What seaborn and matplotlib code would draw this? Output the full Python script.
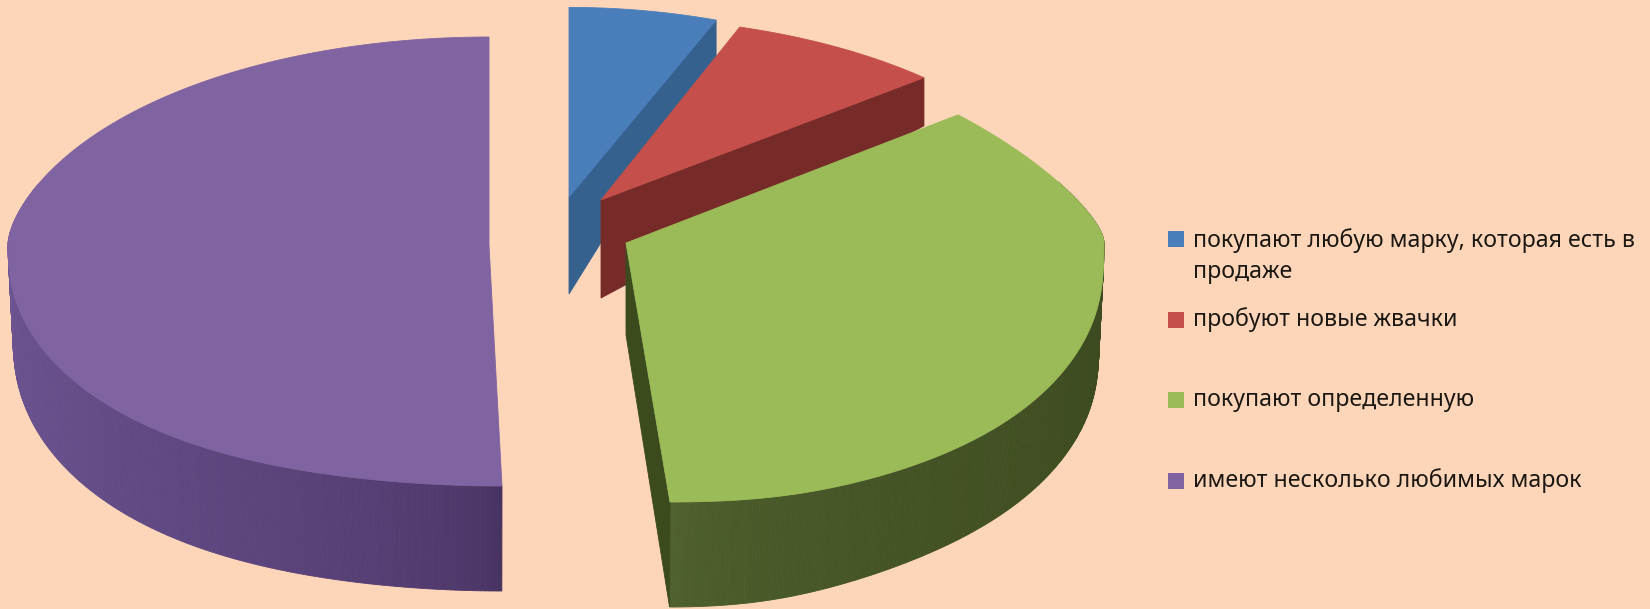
import numpy as np
import pandas as pd
import matplotlib
matplotlib.use("Agg")
import matplotlib.pyplot as plt
from matplotlib.colors import to_rgb
from matplotlib.patches import Polygon
import seaborn as sns

# Survey shares, percent
categories = [
    "покупают любую марку, которая есть в\nпродаже",
    "пробуют новые жвачки",
    "покупают определенную",
    "имеют несколько любимых марок",
]
shares = [6.5, 9.0, 34.5, 50.0]

# Styling of each slice
top_colors = ["#4A7EBB", "#C44F4B", "#9BBB59", "#8064A2"]
cut_colors = ["#35618F", "#772B29", "#3B4B1E", "#46305F"]
wall_far_colors = ["#35618F", "#772B29", "#3D4A20", "#6C5492"]
wall_near_colors = ["#35618F", "#772B29", "#50632F", "#46305F"]

# Exploded pie layout, in pixels
apex_x = [569, 601, 626, 489]
apex_y = [197, 200, 243, 245]
far_reach = [237, 288, 260, 260]
far_taper = [0.25, 0.576, 0.25, 0.25]
near_reach = [241, 241, 259, 241]
front_shift = [0, 0, 44, 13]
radius = [493, 465, 478, 481]
x_taper = [0.4, 0.4, 0.4, 0.19]
side_sag = [0, 0, 24, 10]
wall_base = [95, 95, 92, 85]
wall_rise = [0, 0, 13, 20]
wall_power = [1, 1, 6, 0.5]
apex_drop = [97, 98, 92, 95]
draw_order = [3, 0, 1, 2]

BACKGROUND = "#FDD6B9"

sns.set_theme(style="white")
plt.rcParams["font.family"] = ["Noto Sans", "DejaVu Sans"]


def project(theta, i):
    """Perspective projection of rim points; theta runs clockwise from the back."""
    u, v = np.sin(theta), np.cos(theta)
    far = v >= 0
    abs_v = np.abs(v)
    near_k = far_reach[i] / near_reach[i] - 1
    sag = side_sag[i] * (1 - abs_v ** 4) * (1 - np.exp(-abs_v / 0.07))
    dy = np.where(far,
                  far_reach[i] * v / (1 + far_taper[i] * v),
                  far_reach[i] * v / (1 + near_k * abs_v) - sag)
    scale = np.where(far, 1 + x_taper[i] * v ** 2 / (abs_v + 0.1), 1.0)
    dx = radius[i] * u / scale + front_shift[i] * np.where(far, 0, abs_v ** 12)
    return dx, dy, v


def wall_drop(v, i):
    """Apparent height of the pie's side at a given depth position."""
    base = wall_base[i]
    return np.where(v >= 0,
                    37 + (base - 37) * (1 - v) ** 2,
                    base + wall_rise[i] * np.abs(v) ** wall_power[i])


def rim(theta, i):
    dx, dy, v = project(theta, i)
    shrink = np.where(v < 0.3, 0.99, 1.0)
    top = np.column_stack([apex_x[i] + dx, apex_y[i] - dy])
    bottom = np.column_stack([apex_x[i] + dx * shrink, apex_y[i] - dy + wall_drop(v, i)])
    return top, bottom


def blend(a, b, t):
    a, b = np.array(to_rgb(a)), np.array(to_rgb(b))
    return tuple(a + (b - a) * t)


table = pd.DataFrame({"label": categories, "share": shares})
table["sweep"] = table["share"] / table["share"].sum() * 2 * np.pi
table["end"] = table["sweep"].cumsum()
table["start"] = table["end"] - table["sweep"]

fig = plt.figure(figsize=(16.5, 6.09), dpi=100, facecolor=BACKGROUND)
ax = fig.add_axes([0, 0, 1, 1], facecolor=BACKGROUND)

for i in draw_order:
    start, end = table.loc[i, "start"], table.loc[i, "end"]
    theta = np.linspace(start, end, 360)
    top, bottom = rim(theta, i)
    cx, cy = apex_x[i], apex_y[i]
    apex_low = (cx, cy + apex_drop[i])

    # Outer side of the slice, shaded around the rim
    for k in range(len(theta) - 1):
        mid = 0.5 * (theta[k] + theta[k + 1])
        if np.cos(mid) > 0.25:
            continue
        t = np.clip(abs(mid - np.pi) / (np.pi / 2), 0, 1) ** 0.5
        shade = blend(wall_near_colors[i], wall_far_colors[i], t)
        ax.add_patch(Polygon([top[k], top[k + 1], bottom[k + 1], bottom[k]],
                             closed=True, fc=shade, ec=shade, lw=0.6, zorder=2 + i))

    # Visible radial cut of the slice
    if i in (0, 1, 2):
        ax.add_patch(Polygon([(cx, cy), top[-1], bottom[-1], apex_low],
                             closed=True, fc=cut_colors[i], ec=cut_colors[i],
                             lw=0.6, zorder=2 + i))

    # Top face
    ax.add_patch(Polygon(np.vstack([[(cx, cy)], top]), closed=True,
                         fc=top_colors[i], ec=top_colors[i], lw=0.6, zorder=2 + i))

# Legend
swatch_x = 1176
text_x = 1193
swatch_y = [239, 320, 400, 481]
text_y = [256, 320, 400, 481]
legend = pd.DataFrame({"x": [swatch_x] * 4, "y": swatch_y, "label": categories})
sns.scatterplot(data=legend, x="x", y="y", hue="label",
                palette=sns.color_palette(top_colors), marker="s", s=135,
                linewidth=0, legend=False, ax=ax, zorder=10)
for label, y in zip(categories, text_y):
    ax.text(text_x, y, label, ha="left", va="center", fontsize=16.7,
            color="#1B1712", linespacing=1.4, zorder=11)

ax.set_xlim(0, 1650)
ax.set_ylim(609, 0)
ax.set_axis_off()

fig.savefig("out.png", dpi=100, facecolor=BACKGROUND)
